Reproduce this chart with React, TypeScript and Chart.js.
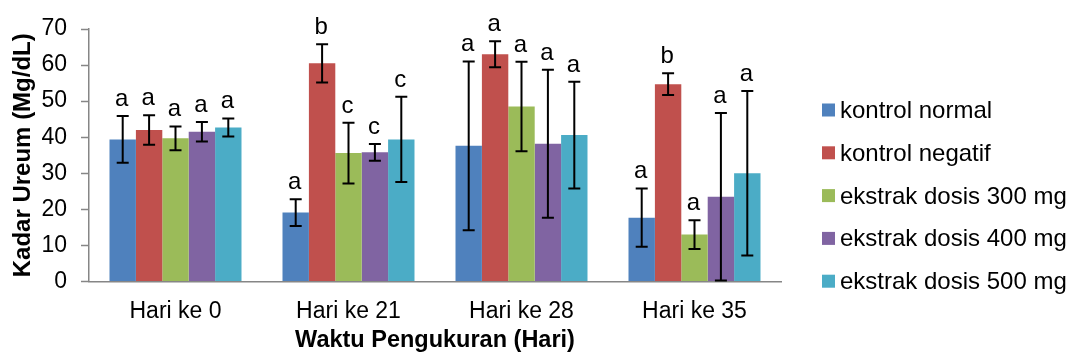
import React, { useEffect, useRef } from "react";
import { Chart, registerables } from "chart.js";

Chart.register(...registerables);

const categories = ["Hari ke 0", "Hari ke 21", "Hari ke 28", "Hari ke 35"];
const seriesNames = [
  "kontrol normal",
  "kontrol negatif",
  "ekstrak dosis 300 mg",
  "ekstrak dosis 400 mg",
  "ekstrak dosis 500 mg",
];
const seriesColors = ["#4F81BD", "#C0504D", "#9BBB59", "#8064A2", "#4BACC6"];

const kontrolNormal = [39.4, 19.1, 37.6, 17.7];
const kontrolNegatif = [42.0, 60.5, 63.0, 54.7];
const dosis300 = [39.7, 35.6, 48.5, 13.0];
const dosis400 = [41.5, 35.8, 38.2, 23.5];
const dosis500 = [42.7, 39.4, 40.6, 30.0];

const errNormal = [6.5, 3.7, 23.4, 8.1];
const errNegatif = [4.1, 5.3, 3.6, 3.0];
const err300 = [3.3, 8.4, 12.4, 4.0];
const err400 = [2.7, 2.3, 20.5, 23.2];
const err500 = [2.5, 11.8, 14.8, 22.8];

const lettersNormal = ["a", "a", "a", "a"];
const lettersNegatif = ["a", "b", "a", "b"];
const letters300 = ["a", "c", "a", "a"];
const letters400 = ["a", "c", "a", "a"];
const letters500 = ["a", "c", "a", "a"];

const yMin = 0;
const yMax = 70;
const yStep = 10;

const FONT = "'Liberation Sans', Arial, Helvetica, sans-serif";
const AXIS_COLOR = "#868686";

const seriesValues = [kontrolNormal, kontrolNegatif, dosis300, dosis400, dosis500];
const seriesErrors = [errNormal, errNegatif, err300, err400, err500];
const seriesLetters = [lettersNormal, lettersNegatif, letters300, letters400, letters500];

const errorBarPlugin = {
  id: "errorBarsAndLetters",
  afterDatasetsDraw(chart: any) {
    const ctx = chart.ctx;
    const yScale = chart.scales.y;
    chart.data.datasets.forEach((ds: any, i: number) => {
      const meta = chart.getDatasetMeta(i);
      meta.data.forEach((bar: any, j: number) => {
        const v = ds.data[j];
        const e = ds.errors[j];
        const yt = yScale.getPixelForValue(v + e);
        const yb = yScale.getPixelForValue(Math.max(yMin, v - e));
        const x = bar.x;
        const cap = 6;
        ctx.save();
        ctx.strokeStyle = "#000";
        ctx.lineWidth = 2;
        ctx.beginPath();
        ctx.moveTo(x, yt);
        ctx.lineTo(x, yb);
        ctx.moveTo(x - cap, yt);
        ctx.lineTo(x + cap, yt);
        ctx.moveTo(x - cap, yb);
        ctx.lineTo(x + cap, yb);
        ctx.stroke();
        ctx.fillStyle = "#000";
        ctx.font = `24px ${FONT}`;
        ctx.textAlign = "center";
        ctx.textBaseline = "alphabetic";
        ctx.fillText(ds.letters[j], x - 1, yt - 10);
        ctx.restore();
      });
    });
  },
};

const legendPlugin = {
  id: "sideLegend",
  afterDraw(chart: any) {
    const ctx = chart.ctx;
    const boxX = 822;
    const textX = 840;
    const startY = 110;
    const stepY = 42.8;
    const box = 13;
    ctx.save();
    chart.data.datasets.forEach((ds: any, i: number) => {
      const yc = startY + i * stepY;
      ctx.fillStyle = ds.backgroundColor;
      ctx.fillRect(boxX, yc - box / 2, box, box);
      ctx.fillStyle = "#000";
      ctx.font = `24px ${FONT}`;
      ctx.textAlign = "left";
      ctx.textBaseline = "alphabetic";
      ctx.fillText(ds.label, textX, yc + 8);
    });
    ctx.restore();
  },
};

export default function App() {
  const canvasRef = useRef<HTMLCanvasElement | null>(null);

  useEffect(() => {
    if (!canvasRef.current) return;
    const datasets = seriesNames.map((name, i) => ({
      label: name,
      data: seriesValues[i],
      errors: seriesErrors[i],
      letters: seriesLetters[i],
      backgroundColor: seriesColors[i],
      borderWidth: 0,
      categoryPercentage: 0.763,
      barPercentage: 1.0,
    }));

    const chart = new Chart(canvasRef.current, {
      type: "bar",
      data: { labels: categories, datasets: datasets as any },
      plugins: [errorBarPlugin, legendPlugin],
      options: {
        animation: false,
        responsive: false,
        maintainAspectRatio: false,
        devicePixelRatio: 1,
        layout: { padding: { top: 29, right: 291, bottom: 0, left: 0 } },
        plugins: {
          legend: { display: false },
          tooltip: { enabled: false },
          title: { display: false },
        },
        scales: {
          x: {
            grid: { display: false, drawTicks: false },
            border: { display: true, color: AXIS_COLOR, width: 1.5 },
            ticks: {
              color: "#000",
              font: { family: FONT, size: 23 },
              padding: 16,
              maxRotation: 0,
            },
            title: {
              display: true,
              text: "Waktu Pengukuran (Hari)",
              color: "#000",
              font: { family: FONT, size: 23.5, weight: "bold" },
              padding: { top: 0, bottom: 3 },
            },
            afterFit(scale: any) {
              scale.height = 76.5;
            },
          },
          y: {
            min: yMin,
            max: yMax,
            ticks: {
              stepSize: yStep,
              color: "#000",
              font: { family: FONT, size: 23 },
              padding: 14,
            },
            grid: {
              display: true,
              drawOnChartArea: false,
              drawTicks: true,
              tickLength: 8,
              tickColor: AXIS_COLOR,
              tickWidth: 1.5,
            },
            border: { display: true, color: AXIS_COLOR, width: 1.5 },
            title: {
              display: true,
              text: "Kadar Ureum (Mg/dL)",
              color: "#000",
              font: { family: FONT, size: 24, weight: "bold" },
              padding: { top: 9, bottom: 0 },
            },
            afterFit(scale: any) {
              scale.width = 89;
            },
          },
        },
      } as any,
    });
    return () => chart.destroy();
  }, []);

  return (
    <canvas
      ref={canvasRef}
      width={1072}
      height={358}
      style={{ position: "absolute", left: 0, top: 0, width: 1072, height: 358, display: "block" }}
    />
  );
}
